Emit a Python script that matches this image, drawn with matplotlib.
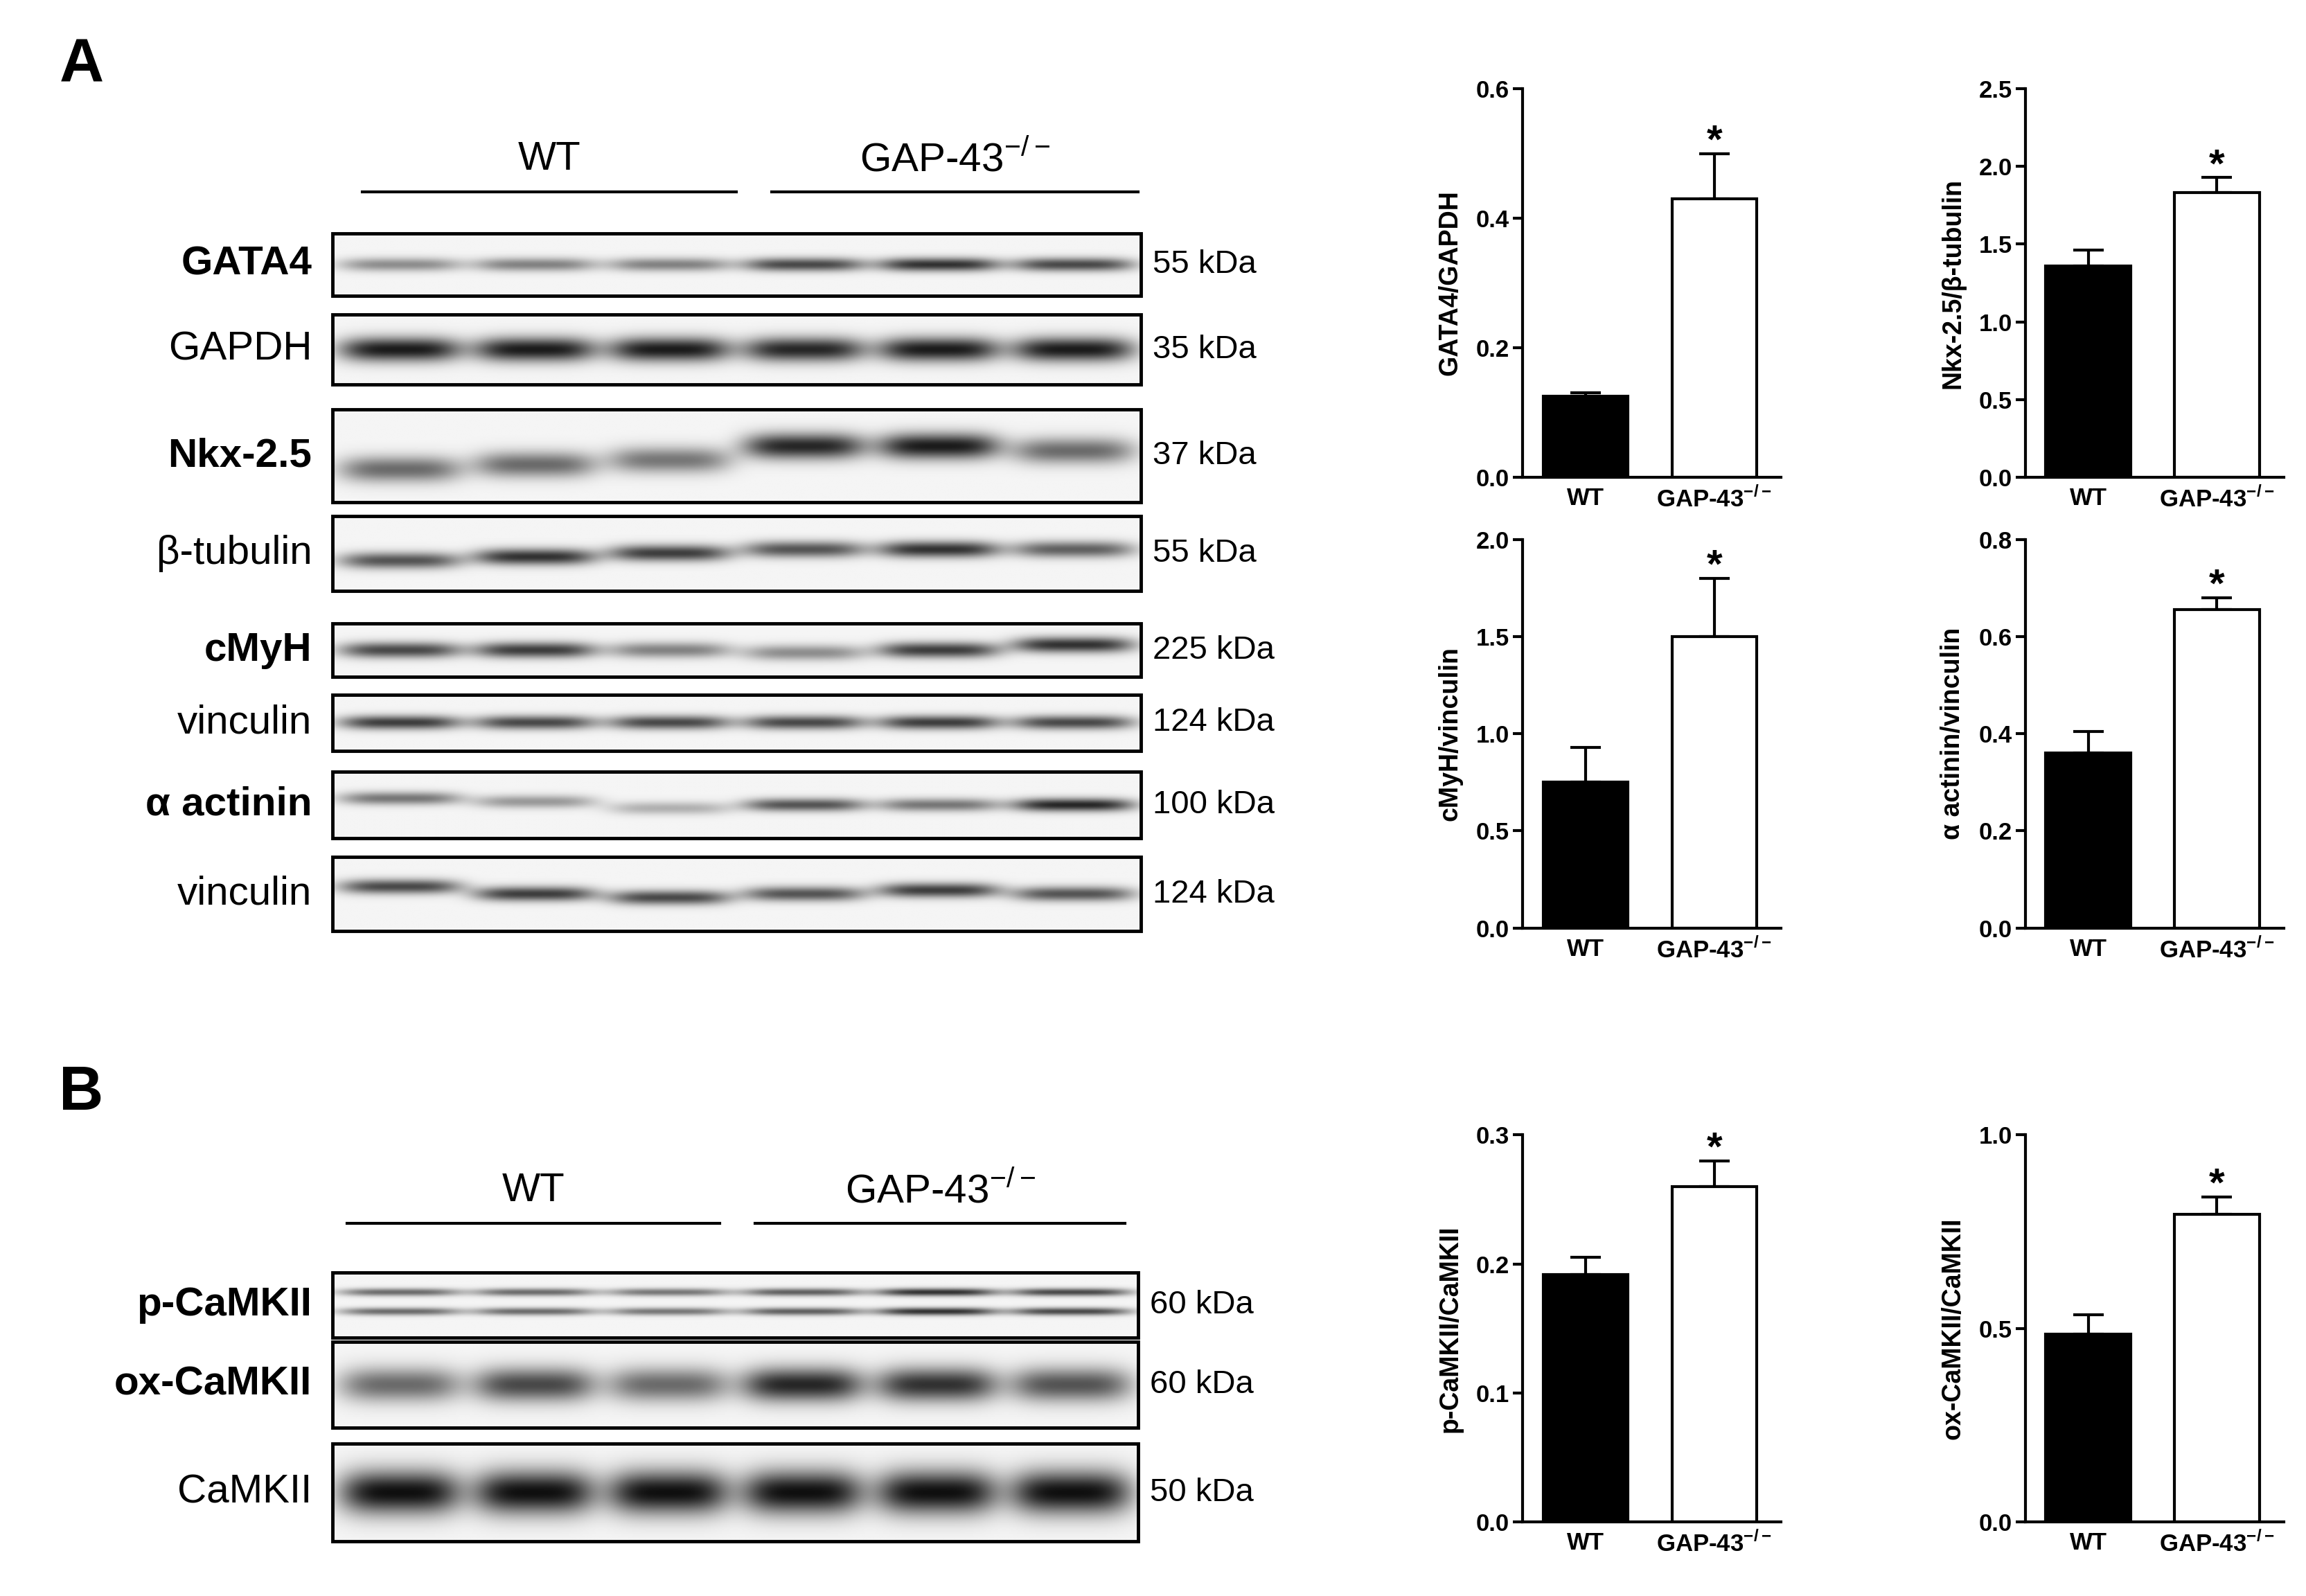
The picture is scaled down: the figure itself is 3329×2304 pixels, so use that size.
import numpy as np
import matplotlib
matplotlib.use("Agg")
import matplotlib.pyplot as plt
from matplotlib.patches import Rectangle

plt.rcParams['font.family'] = ['Liberation Sans', 'DejaVu Sans']

W, H = 1560.0, 1080.0  # layout units (scaled to 3329x2304)

# ---------- data ----------
groups = ["WT", "GAP-43$^{\\mathregular{-/-}}$"]
bar_names = ["GATA4/GAPDH", "Nkx-2.5/β-tubulin", "cMyH/vinculin",
             "α actinin/vinculin", "p-CaMKII/CaMKII", "ox-CaMKII/CaMKII"]
wt_mean = [0.125, 1.36, 0.75, 0.36, 0.192, 0.485]
wt_err = [0.006, 0.10, 0.18, 0.045, 0.013, 0.05]
ko_mean = [0.43, 1.83, 1.50, 0.655, 0.26, 0.795]
ko_err = [0.07, 0.10, 0.30, 0.025, 0.02, 0.045]
y_max = [0.6, 2.5, 2.0, 0.8, 0.3, 1.0]
y_step = [0.2, 0.5, 0.5, 0.2, 0.1, 0.5]

blot_labels = ["GATA4", "GAPDH", "Nkx-2.5", "β-tubulin", "cMyH", "vinculin",
               "α actinin", "vinculin", "p-CaMKII", "ox-CaMKII", "CaMKII"]
blot_bold = [True, False, True, False, True, False, True, False, True, True, False]
blot_kda = ["55 kDa", "35 kDa", "37 kDa", "55 kDa", "225 kDa", "124 kDa",
            "100 kDa", "124 kDa", "60 kDa", "60 kDa", "50 kDa"]
# band intensities per lane (WT x3, GAP-43-/- x3)
band_int = [
    [0.45, 0.5, 0.5, 0.75, 0.85, 0.75],
    [0.95, 0.95, 0.95, 0.9, 0.95, 0.95],
    [0.6, 0.6, 0.55, 0.9, 0.95, 0.6],
    [0.7, 0.85, 0.8, 0.7, 0.85, 0.65],
    [0.75, 0.8, 0.5, 0.45, 0.8, 0.85],
    [0.8, 0.75, 0.75, 0.75, 0.8, 0.75],
    [0.55, 0.4, 0.3, 0.7, 0.55, 0.9],
    [0.75, 0.8, 0.75, 0.7, 0.8, 0.7],
    [0.6, 0.6, 0.55, 0.65, 0.85, 0.75],
    [0.6, 0.75, 0.6, 0.9, 0.85, 0.7],
    [1.0, 1.0, 1.0, 1.0, 1.0, 1.0],
]
# band thickness (fraction of box height) per blot
band_thick = [0.22, 0.35, 0.28, 0.22, 0.3, 0.25, 0.2, 0.2, 0.12, 0.4, 0.45]
# vertical band offset per lane (fraction of box height, + = lower)
band_off = [
    [0, 0, 0, 0, 0, 0], [0, 0, 0, 0, 0, 0],
    [0.15, 0.1, 0.05, -0.1, -0.1, -0.05], [0.1, 0.05, 0.0, -0.05, -0.05, -0.05],
    [0, 0, 0, 0.05, 0, -0.1], [0, 0, 0, 0, 0, 0], [-0.1, -0.05, 0.05, 0, 0, 0],
    [-0.1, 0, 0.05, 0, -0.05, 0], [0, 0, 0, 0, 0, 0], [0, 0, 0, 0, 0, 0], [0, 0, 0, 0, 0, 0],
]

# ---------- layout ----------
fig = plt.figure(figsize=(33.29, 23.04), dpi=100)
ov = fig.add_axes([0, 0, 1, 1])
ov.set_xlim(0, W); ov.set_ylim(H, 0); ov.axis('off')

blot_boxes = [(225, 772, 158, 200), (225, 772, 213, 260), (225, 772, 277, 340),
              (225, 772, 349, 400), (225, 772, 422, 458), (225, 772, 470, 508),
              (225, 772, 522, 567), (225, 772, 580, 630),
              (225, 770, 861, 905), (225, 770, 908, 966), (225, 770, 977, 1043)]

for i, (x0, x1, y0, y1) in enumerate(blot_boxes):
    nx, ny = 600, 80
    xs = np.linspace(x0, x1, nx)
    ys = np.linspace(y0, y1, ny)
    X, Y = np.meshgrid(xs, ys)
    img = np.zeros_like(X)
    lw = (x1 - x0) / 6.0
    hgt = y1 - y0
    for j in range(6):
        cx = x0 + lw * (j + 0.5)
        a = band_int[i][j]
        cy = y0 + hgt * (0.5 + band_off[i][j])
        sy = hgt * band_thick[i] / 2
        sx = lw * 0.45
        gx = np.exp(-np.abs((X - cx) / sx) ** 4)
        if i == 8:
            img += a * gx * (np.exp(-((Y - (y0 + hgt * 0.3)) / sy) ** 2)
                             + np.exp(-((Y - (y0 + hgt * 0.6)) / sy) ** 2))
        else:
            img += a * gx * np.exp(-((Y - cy) / sy) ** 2)
    img = np.clip(img, 0, 1) * 0.9 + 0.04
    ov.imshow(img, cmap='gray_r', vmin=0, vmax=1, extent=(x0, x1, y1, y0),
              aspect='auto', interpolation='bilinear', zorder=1)
    ov.add_patch(Rectangle((x0, y0), x1 - x0, y1 - y0, fill=False, lw=3.5,
                           edgecolor='black', zorder=2))
    yc = (y0 + y1) / 2
    ov.text(x0 - 14, yc, blot_labels[i], ha='right', va='center', fontsize=42,
            fontweight='bold' if blot_bold[i] else 'normal')
    ov.text(x1 + 8, yc, blot_kda[i], ha='left', va='center', fontsize=34)

# group lines
for (la, lb, ly), (ra, rb) in [((245, 498, 130), (522, 770)), ((235, 487, 828), (511, 761))]:
    ov.plot([la, lb], [ly, ly], color='black', lw=3)
    ov.plot([ra, rb], [ly, ly], color='black', lw=3)
    ov.text((la + lb) / 2, ly - 22, "WT", ha='center', va='center', fontsize=42)
    ov.text((ra + rb) / 2, ly - 22, "GAP-43$^{\\mathregular{-/-}}$", ha='center',
            va='center', fontsize=42)

ov.text(40, 45, "A", fontsize=64, fontweight='bold', ha='left', va='center')
ov.text(40, 740, "B", fontsize=64, fontweight='bold', ha='left', va='center')

# bar charts
axes_boxes = [(1030, 1205, 60, 323), (1370, 1545, 60, 323),
              (1030, 1205, 365, 628), (1370, 1545, 365, 628),
              (1030, 1205, 768, 1030), (1370, 1545, 768, 1030)]
for k, (x0, x1, y0, y1) in enumerate(axes_boxes):
    ax = fig.add_axes([x0 / W, 1 - y1 / H, (x1 - x0) / W, (y1 - y0) / H])
    pos = [0, 1]
    ax.bar(pos, [wt_mean[k], ko_mean[k]], width=0.66, color=['black', 'white'],
           edgecolor='black', linewidth=3, zorder=2)
    ax.errorbar(pos, [wt_mean[k], ko_mean[k]],
                yerr=[[0, 0], [wt_err[k], ko_err[k]]], fmt='none',
                ecolor='black', elinewidth=3, capsize=16, capthick=3, zorder=1)
    ax.text(1, ko_mean[k] + ko_err[k] - y_max[k] * 0.02, "*", ha='center',
            va='bottom', fontsize=42, fontweight='bold')
    ax.set_xlim(-0.49, 1.52)
    ax.set_ylim(0, y_max[k])
    ticks = np.arange(0, y_max[k] + 1e-9, y_step[k])
    ax.set_yticks(ticks)
    ax.set_yticklabels([f"{v:.1f}" for v in ticks])
    ax.set_xticks(pos)
    ax.set_xticklabels(groups)
    for s in ['top', 'right']:
        ax.spines[s].set_visible(False)
    for s in ['left', 'bottom']:
        ax.spines[s].set_linewidth(3)
    ax.tick_params(width=3, length=10, labelsize=25)
    ax.tick_params(axis='x', length=0, pad=10)
    for t in ax.get_xticklabels() + ax.get_yticklabels():
        t.set_fontweight('bold')
    ax.set_ylabel(bar_names[k], fontsize=27, fontweight='bold', labelpad=14)

fig.savefig("out.png", dpi=100, facecolor='white')
